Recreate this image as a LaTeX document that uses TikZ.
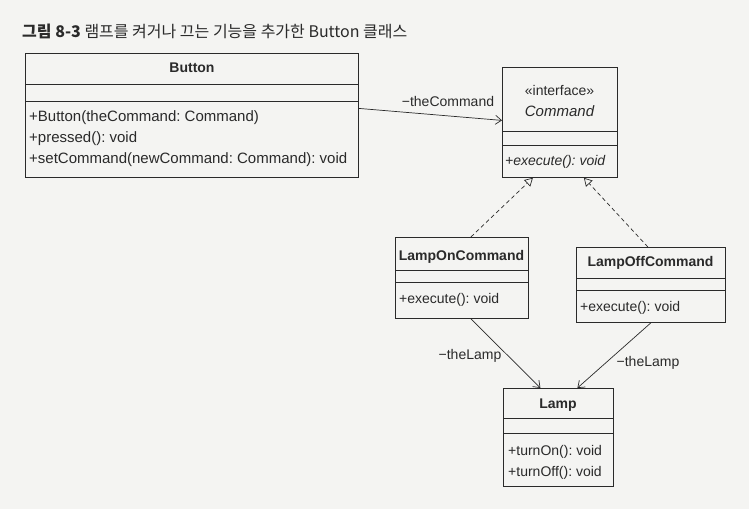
\documentclass[tikz,border=0pt]{standalone}
\usepackage{fontspec}
\setmainfont{Liberation Sans}
\newfontfamily\krfont{Noto Sans CJK KR}
\usetikzlibrary{arrows.meta,calc}
\definecolor{ink}{HTML}{2A2A2A}
\definecolor{paper}{HTML}{F4F4F2}
\frenchspacing
\begin{document}
\begin{tikzpicture}[x=1pt,y=-1pt,
 cls/.style={draw=ink, line width=0.8pt, rectangle, inner sep=0pt, anchor=north west},
 txt/.style={text=ink, inner sep=0pt, font=\fontsize{14}{16}\selectfont},
 big/.style={font=\fontsize{15}{17}\selectfont},
 nm/.style={txt, font=\fontsize{14}{16}\selectfont\bfseries},
 mth/.style={txt, anchor=west},
 div/.style={draw=ink, line width=0.7pt},
 assoc/.style={draw=ink, line width=0.7pt, -{Straight Barb[length=6pt,width=9pt]}},
 real/.style={draw=ink, line width=0.7pt, dash pattern=on 4pt off 3pt, -{Triangle[open,length=8pt,width=9pt]}},
 lbl/.style={txt},
]
\fill[paper] (0,0) rectangle (749,509);
\useasboundingbox (0,0) rectangle (749,509);

\node[anchor=west, text=ink, inner sep=0pt, font=\krfont\fontsize{16}{18}\selectfont] (title) at (22,31) {\textbf{그림 8-3} 램프를 켜거나 끄는 기능을 추가한 Button 클래스};

% Button
\node[cls, minimum width=333, minimum height=124] (button) at (25,53) {};
\draw[div] (button.west |- 0,84) -- (button.east |- 0,84);
\draw[div] (button.west |- 0,101) -- (button.east |- 0,101);
\node[nm] (buttonname) at (192,68) {Button};
\node[mth, big] (b1) at (29,118) {+Button(theCommand: Command)};
\node[mth, big] (b2) at (29,139) {+pressed(): void};
\node[mth, big] (b3) at (29,160) {+setCommand(newCommand: Command): void};

% Command
\node[cls, minimum width=115, minimum height=110] (command) at (502,67) {};
\draw[div] (command.west |- 0,131) -- (command.east |- 0,131);
\draw[div] (command.west |- 0,145) -- (command.east |- 0,145);
\node[txt] (cstereo) at (559.5,90) {«interface»};
\node[txt, font=\fontsize{15}{17}\selectfont\itshape] (cname) at (559.5,111) {Command};
\node[mth, font=\fontsize{14}{16}\selectfont\itshape] (c1) at (505,162) {+execute(): void};

% LampOnCommand
\node[cls, minimum width=133, minimum height=81] (lampon) at (395,237) {};
\draw[div] (lampon.west |- 0,270) -- (lampon.east |- 0,270);
\draw[div] (lampon.west |- 0,282) -- (lampon.east |- 0,282);
\node[nm] (lonname) at (461.5,257) {LampOnCommand};
\node[mth] (lon1) at (399,300) {+execute(): void};

% LampOffCommand
\node[cls, minimum width=149, minimum height=75] (lampoff) at (576,247) {};
\draw[div] (lampoff.west |- 0,278) -- (lampoff.east |- 0,278);
\draw[div] (lampoff.west |- 0,290) -- (lampoff.east |- 0,290);
\node[nm] (loffname) at (650.5,263) {LampOffCommand};
\node[mth] (loff1) at (580,308) {+execute(): void};

% Lamp
\node[cls, minimum width=110, minimum height=98] (lamp) at (503,388) {};
\draw[div] (lamp.west |- 0,418) -- (lamp.east |- 0,418);
\draw[div] (lamp.west |- 0,433) -- (lamp.east |- 0,433);
\node[nm] (lampname) at (558,405) {Lamp};
\node[mth] (l1) at (508,452) {+turnOn(): void};
\node[mth] (l2) at (508,473) {+turnOff(): void};

% connectors
\draw[assoc] ($(button.east)+(0,-7)$) -- ($(command.west)+(0,-2)$);
\node[lbl] (lcmd) at (448,101) {−theCommand};

\draw[real] ($(lampon.north)+(9,0)$) -- ($(command.south)+(-27,0)$);
\draw[real] ($(lampoff.north)+(-3,0)$) -- ($(command.south)+(24,0)$);

\draw[assoc] ($(lampon.south)+(9,0)$) -- ($(lamp.north)+(-18,0)$);
\draw[assoc] ($(lampoff.south)+(0,0)$) -- ($(lamp.north)+(19,0)$);
\node[lbl] (llamp1) at (470,356) {−theLamp};
\node[lbl] (llamp2) at (648,363) {−theLamp};
\end{tikzpicture}
\end{document}
